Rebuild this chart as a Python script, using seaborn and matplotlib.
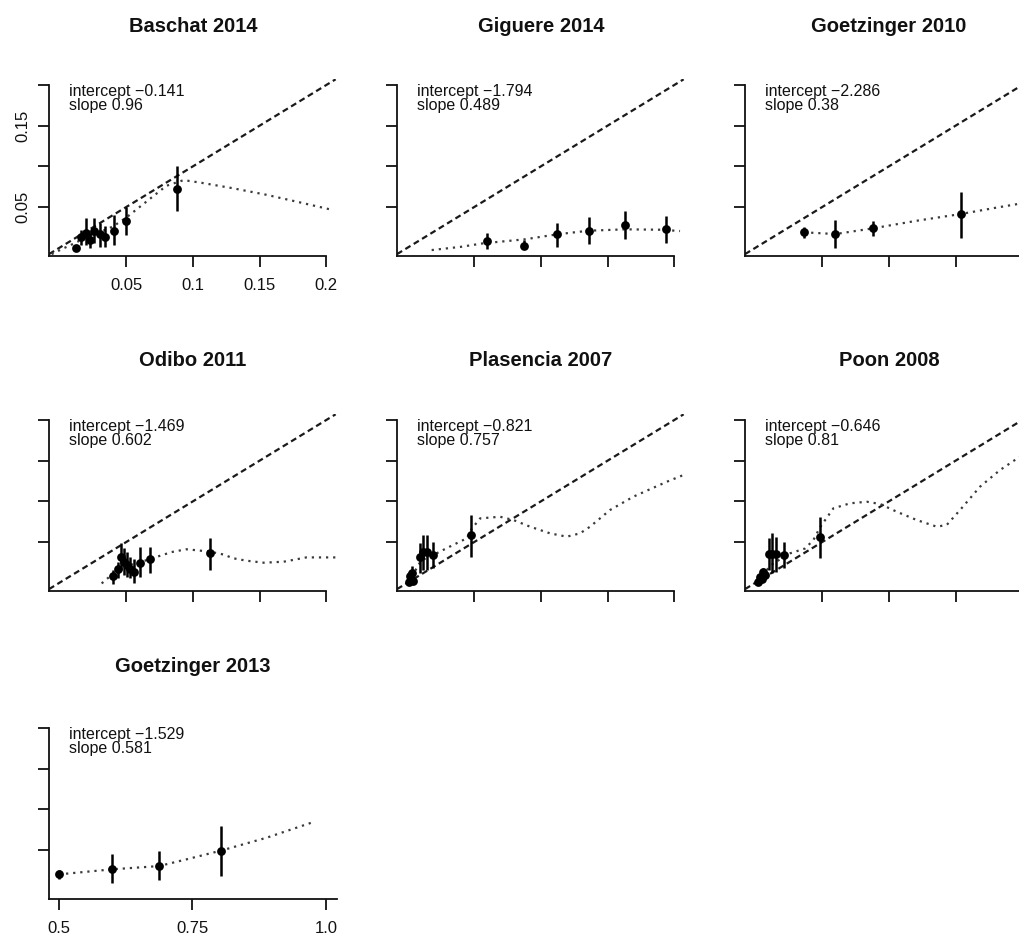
import matplotlib
matplotlib.use("Agg")
import numpy as np, pandas as pd
import matplotlib.pyplot as plt
import seaborn as sns

sns.set_style("white")
plt.rcParams['font.family'] = ['Liberation Sans', 'DejaVu Sans']
plt.rcParams['axes.unicode_minus'] = True
plt.rcParams['text.color'] = '#111111'
plt.rcParams['xtick.color'] = '#111111'
plt.rcParams['ytick.color'] = '#111111'

# === panel text ===
titles = ["Baschat 2014", "Giguere 2014", "Goetzinger 2010",
          "Odibo 2011", "Plasencia 2007", "Poon 2008", "Goetzinger 2013"]
intercepts = ["\u22120.141", "\u22121.794", "\u22122.286", "\u22121.469",
              "\u22120.821", "\u22120.646", "\u22121.529"]
slopes = ["0.96", "0.489", "0.38", "0.602", "0.757", "0.81", "0.581"]

# === grouped points (x, observed, CI low, CI high) and smoothed curves ===
baschat_x = [0.012, 0.016, 0.0195, 0.023, 0.026, 0.030, 0.034, 0.041, 0.050, 0.088]
baschat_y = [-0.001, 0.0134, 0.0183, 0.0093, 0.0204, 0.0167, 0.0134, 0.021, 0.033, 0.0717]
baschat_lo = [-0.004, 0.003, 0.003, -0.001, 0.0053, 0.0011, 0.0011, 0.003, 0.0155, 0.0445]
baschat_hi = [0.002, 0.0216, 0.036, 0.0176, 0.036, 0.030, 0.026, 0.040, 0.050, 0.100]
baschat_cx = [-0.006, 0.0027, 0.012, 0.02, 0.03, 0.04, 0.05, 0.06, 0.07, 0.08, 0.093,
              0.1053, 0.130, 0.155, 0.180, 0.205]
baschat_cy = [-0.008, -0.001, 0.006, 0.013, 0.019, 0.026, 0.037, 0.050, 0.063, 0.076, 0.083,
              0.080, 0.073, 0.065, 0.0557, 0.0462]

giguere_x = [0.0593, 0.0873, 0.1123, 0.1358, 0.1633, 0.1935]
giguere_y = [0.0085, 0.0023, 0.0164, 0.0208, 0.0278, 0.0225]
giguere_lo = [-0.002, -0.002, 0.0011, 0.0044, 0.0102, 0.0053]
giguere_hi = [0.0176, 0.009, 0.030, 0.0372, 0.0454, 0.0388]
giguere_cx = [0.018, 0.04, 0.0568, 0.0878, 0.1123, 0.1358, 0.1633, 0.19, 0.2043]
giguere_cy = [-0.003, 0.001, 0.0053, 0.0102, 0.0164, 0.0208, 0.0225, 0.022, 0.0204]

goetz10_x = [0.0363, 0.0598, 0.0880, 0.1537]
goetz10_y = [0.0188, 0.0167, 0.0237, 0.0413]
goetz10_lo = [0.0114, -0.0009, 0.0143, 0.0114]
goetz10_hi = [0.0257, 0.034, 0.0331, 0.0688]
goetz10_cx = [0.0363, 0.0598, 0.088, 0.121, 0.1537, 0.18, 0.2105]
goetz10_cy = [0.0188, 0.0167, 0.0237, 0.0331, 0.0413, 0.049, 0.0575]

odibo_x = [0.040, 0.044, 0.046, 0.0485, 0.0505, 0.053, 0.056, 0.0605, 0.068, 0.113]
odibo_y = [0.0081, 0.0164, 0.0319, 0.0257, 0.0216, 0.0164, 0.0134, 0.0245, 0.0287, 0.036]
odibo_lo = [-0.002, 0.0053, 0.0155, 0.0093, 0.0073, 0.0053, -0.0009, 0.0073, 0.0122, 0.0155]
odibo_hi = [0.0155, 0.0257, 0.049, 0.042, 0.038, 0.0319, 0.0287, 0.044, 0.044, 0.0545]
odibo_cx = [0.0315, 0.04, 0.046, 0.052, 0.06, 0.0715, 0.084, 0.095, 0.1015, 0.113, 0.123,
            0.130, 0.140, 0.153, 0.168, 0.185, 0.2105]
odibo_cy = [-0.001, 0.011, 0.019, 0.021, 0.025, 0.031, 0.0376, 0.041, 0.040, 0.038, 0.0345,
            0.030, 0.027, 0.0245, 0.0257, 0.031, 0.031]

plasencia_x = [0.001, 0.0025, 0.004, 0.002, 0.003, 0.0093, 0.0118, 0.0143, 0.0193, 0.0475]
plasencia_y = [0.001, 0.004, 0.002, 0.008, 0.012, 0.031, 0.0373, 0.0373, 0.034, 0.0585]
plasencia_lo = [-0.002, 0.0, -0.001, 0.003, 0.006, 0.0114, 0.0155, 0.0155, 0.0176, 0.032]
plasencia_hi = [0.004, 0.009, 0.006, 0.014, 0.020, 0.0484, 0.0585, 0.0585, 0.050, 0.083]
plasencia_cx = [0.0, 0.004, 0.0093, 0.0143, 0.0193, 0.0305, 0.0443, 0.0478, 0.0543, 0.0693,
                0.0793, 0.0918, 0.1068, 0.1193, 0.1293, 0.1368, 0.1518, 0.1693, 0.1943, 0.2068]
plasencia_cy = [0.0, 0.010, 0.025, 0.031, 0.034, 0.0434, 0.0545, 0.0656, 0.079, 0.081,
                0.077, 0.0688, 0.0606, 0.0565, 0.0606, 0.0688, 0.0893, 0.1057, 0.124, 0.1323]

poon_x = [0.002, 0.0045, 0.007, 0.003, 0.0057, 0.010, 0.0125, 0.015, 0.0213, 0.0483]
poon_y = [0.001, 0.005, 0.0093, 0.0073, 0.0134, 0.0348, 0.0348, 0.0348, 0.034, 0.0565]
poon_lo = [-0.002, 0.001, 0.005, 0.003, 0.009, 0.0155, 0.0114, 0.0134, 0.0176, 0.030]
poon_hi = [0.004, 0.009, 0.013, 0.011, 0.018, 0.0545, 0.0606, 0.0565, 0.050, 0.081]
poon_cx = [0.0008, 0.0133, 0.0258, 0.0371, 0.0433, 0.0483, 0.0583, 0.0708, 0.0833, 0.0933,
           0.1058, 0.1208, 0.1358, 0.1433, 0.1533, 0.1683, 0.1833, 0.1983, 0.2105]
poon_cy = [0.0032, 0.0237, 0.036, 0.042, 0.0524, 0.068, 0.0914, 0.0975, 0.0995, 0.0967,
           0.0872, 0.077, 0.0688, 0.0709, 0.0893, 0.118, 0.1385, 0.155, 0.168]

goetz13_x = [0.5, 0.5998, 0.6873, 0.8028]
goetz13_y = [0.020, 0.0262, 0.0302, 0.0491]
goetz13_lo = [0.0147, 0.0094, 0.0135, 0.0184]
goetz13_hi = [0.025, 0.0446, 0.0488, 0.0792]
goetz13_cx = [0.5, 0.5998, 0.6873, 0.739, 0.8028, 0.889, 0.973]
goetz13_cy = [0.020, 0.0262, 0.0302, 0.0385, 0.0491, 0.0651, 0.0836]

y_ticks = [0.05, 0.10, 0.15, 0.20]
y_ticklabels = ["0.05", "", "0.15", ""]
x_ticks = [0.05, 0.10, 0.15, 0.20]
x_ticklabels = ["0.05", "0.1", "0.15", "0.2"]
x_ticks_last = [0.5, 0.75, 1.0]
x_ticklabels_last = ["0.5", "0.75", "1.0"]

points = [(baschat_x, baschat_y, baschat_lo, baschat_hi),
          (giguere_x, giguere_y, giguere_lo, giguere_hi),
          (goetz10_x, goetz10_y, goetz10_lo, goetz10_hi),
          (odibo_x, odibo_y, odibo_lo, odibo_hi),
          (plasencia_x, plasencia_y, plasencia_lo, plasencia_hi),
          (poon_x, poon_y, poon_lo, poon_hi),
          (goetz13_x, goetz13_y, goetz13_lo, goetz13_hi)]
curves = [(baschat_cx, baschat_cy), (giguere_cx, giguere_cy), (goetz10_cx, goetz10_cy),
          (odibo_cx, odibo_cy), (plasencia_cx, plasencia_cy), (poon_cx, poon_cy),
          (goetz13_cx, goetz13_cy)]

# === layout in pixels ===
W, H = 1020, 935
COL_LEFT = [49, 397, 745]
ROW_TOP = [79.3, 414.3, 722.3]
TITLE_Y = [26.7, 360, 666.7]
AX_W, AX_H = 291.3, 176.7
YLIM = (-0.0103, 0.207)

fig = plt.figure(figsize=(W / 100, H / 100), dpi=100)
fig.patch.set_facecolor('white')

for i, title in enumerate(titles):
    r, c = divmod(i, 3)
    left, top = COL_LEFT[c], ROW_TOP[r]
    ax = fig.add_axes([left / W, 1 - (top + AX_H) / H, AX_W / W, AX_H / H])
    ax.patch.set_alpha(0)
    last = (i == 6)

    px, py, plo, phi = points[i]
    cx, cy = curves[i]
    pts = pd.DataFrame({"x": px, "y": py, "lo": plo, "hi": phi})
    cur = pd.DataFrame({"x": cx, "y": cy})

    if last:
        ax.set_xlim(0.4813, 1.0268)
    else:
        ax.set_xlim(-0.008, 0.2105)
    ax.set_ylim(*YLIM)

    # perfect calibration line
    ax.axline((0, 0), slope=1, color='#1a1a1a', lw=1.6, linestyle=(0, (2.7, 1.7)), zorder=2)
    # smoothed calibration curve
    sns.lineplot(data=cur, x="x", y="y", sort=False, estimator=None, ax=ax,
                 color='#3a3a3a', lw=1.6, linestyle=(0, (1, 2.2)), zorder=2)
    ax.vlines(pts["x"], pts["lo"], pts["hi"], color='black', lw=1.8, zorder=3)
    sns.scatterplot(data=pts, x="x", y="y", ax=ax, color='black', s=40,
                    edgecolor='black', linewidth=0, zorder=4, legend=False)

    ax.text(20 / AX_W, 1 - 4.5 / AX_H, f"intercept {intercepts[i]}\nslope {slopes[i]}",
            transform=ax.transAxes, ha='left', va='top', fontsize=11.5,
            linespacing=0.92, color='#111111')

    fig.text((left + 144) / W, 1 - TITLE_Y[r] / H, title, ha='center', va='center',
             fontsize=14.5, fontweight='bold', color='#111111')

    ax.set_yticks(y_ticks)
    ax.set_yticklabels(y_ticklabels if i == 0 else [""] * 4, rotation=90, va='center')
    if last:
        ax.set_xticks(x_ticks_last)
        ax.set_xticklabels(x_ticklabels_last)
        ax.spines['bottom'].set_bounds(0.4813, 1.0206)
    else:
        ax.set_xticks(x_ticks)
        ax.set_xticklabels(x_ticklabels if i == 0 else [""] * 4)
        ax.spines['bottom'].set_bounds(-0.008, 0.2)
    ax.spines['left'].set_bounds(YLIM[0], 0.2)
    for s in ['top', 'right']:
        ax.spines[s].set_visible(False)
    for s in ['left', 'bottom']:
        ax.spines[s].set_linewidth(1.3)
        ax.spines[s].set_color('#111111')
    ax.tick_params(axis='both', direction='out', length=8, width=1.3,
                   labelsize=12, bottom=True, left=True)
    ax.tick_params(axis='x', pad=8)
    ax.tick_params(axis='y', pad=5.5)
    ax.set_xlabel(""); ax.set_ylabel("")
    ax.grid(False)

fig.savefig("out.png", dpi=100, facecolor='white')
